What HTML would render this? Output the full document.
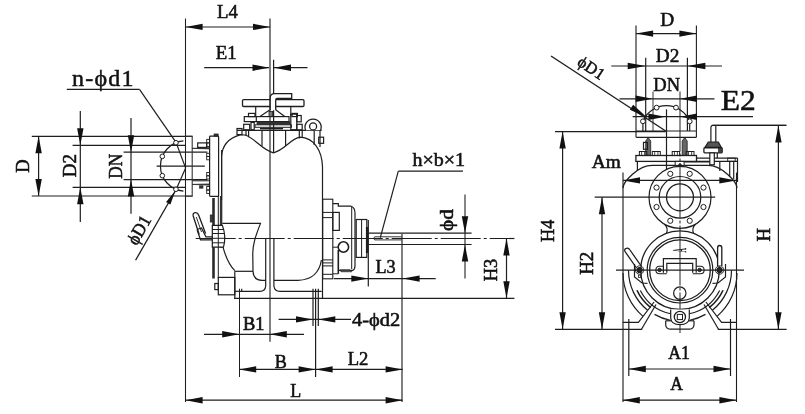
<!DOCTYPE html>
<html><head><meta charset="utf-8"><title>Pump dimensions</title>
<style>
html,body{margin:0;padding:0;background:#fff;}
body{width:805px;height:414px;overflow:hidden;}
svg{display:block;font-family:"Liberation Serif",serif;opacity:0.999;will-change:transform;}
</style></head><body>
<svg width="805" height="414" viewBox="0 0 805 414">
<rect x="0" y="0" width="805" height="414" fill="#ffffff"/>
<line x1="185.50" y1="18.60" x2="185.50" y2="402.00" stroke="#1e1e1e" stroke-width="1.05"/>
<line x1="270.00" y1="18.60" x2="270.00" y2="341.80" stroke="#222" stroke-width="1.15"/>
<line x1="273.60" y1="59.70" x2="273.60" y2="152.80" stroke="#1e1e1e" stroke-width="1.2"/>
<line x1="185.60" y1="27.00" x2="270.00" y2="27.00" stroke="#1e1e1e" stroke-width="1.1"/>
<polygon points="185.60,26.90 202.60,23.70 202.60,30.10" fill="#111"/>
<polygon points="270.00,26.90 253.00,30.10 253.00,23.70" fill="#111"/>
<text transform="translate(217.06 17.90) rotate(0) scale(1.019 1)" font-size="18.40" fill="#111" stroke="#111" stroke-width="0.55">L4</text>
<line x1="204.20" y1="67.70" x2="269.00" y2="67.70" stroke="#1e1e1e" stroke-width="1.2"/>
<polygon points="269.50,67.70 252.50,70.90 252.50,64.50" fill="#111"/>
<line x1="274.00" y1="67.70" x2="307.50" y2="67.70" stroke="#1e1e1e" stroke-width="1.2"/>
<polygon points="274.00,67.70 291.00,64.50 291.00,70.90" fill="#111"/>
<text transform="translate(215.76 58.90) rotate(0) scale(1.021 1)" font-size="18.40" fill="#111" stroke="#111" stroke-width="0.55">E1</text>
<text x="72.00" y="85.60" font-size="24" text-anchor="start" letter-spacing="1.2" fill="#111" stroke="#111" stroke-width="0.5" font-weight="normal">n-ϕd1</text>
<line x1="66.80" y1="89.30" x2="139.50" y2="89.30" stroke="#1e1e1e" stroke-width="1.2"/>
<line x1="139.50" y1="89.30" x2="176.00" y2="142.40" stroke="#1e1e1e" stroke-width="1.2"/>
<line x1="176.00" y1="142.40" x2="185.65" y2="168.00" stroke="#1e1e1e" stroke-width="1.2"/>
<line x1="176.00" y1="189.70" x2="185.65" y2="168.00" stroke="#1e1e1e" stroke-width="1.2"/>
<line x1="31.80" y1="136.30" x2="192.30" y2="136.30" stroke="#1e1e1e" stroke-width="1.2"/>
<line x1="31.80" y1="196.00" x2="192.30" y2="196.00" stroke="#1e1e1e" stroke-width="1.2"/>
<line x1="38.60" y1="136.30" x2="38.60" y2="196.00" stroke="#1e1e1e" stroke-width="1.2"/>
<polygon points="38.60,136.30 41.80,153.30 35.40,153.30" fill="#111"/>
<polygon points="38.60,196.00 35.40,179.00 41.80,179.00" fill="#111"/>
<text transform="translate(29.10 172.63) rotate(-90) scale(0.975 1)" font-size="19.00" fill="#111" stroke="#111" stroke-width="0.55">D</text>
<line x1="72.60" y1="145.30" x2="185.00" y2="145.30" stroke="#1e1e1e" stroke-width="1.2"/>
<line x1="72.60" y1="187.30" x2="185.00" y2="187.30" stroke="#1e1e1e" stroke-width="1.2"/>
<line x1="80.30" y1="111.00" x2="80.30" y2="222.00" stroke="#1e1e1e" stroke-width="1.2"/>
<polygon points="80.30,145.30 77.10,128.30 83.50,128.30" fill="#111"/>
<polygon points="80.30,187.30 83.50,204.30 77.10,204.30" fill="#111"/>
<text transform="translate(76.00 177.15) rotate(-90) scale(1.003 1)" font-size="19.00" fill="#111" stroke="#111" stroke-width="0.55">D2</text>
<line x1="123.60" y1="152.20" x2="207.40" y2="152.20" stroke="#1e1e1e" stroke-width="1.2"/>
<line x1="123.60" y1="179.60" x2="207.40" y2="179.60" stroke="#1e1e1e" stroke-width="1.2"/>
<line x1="131.00" y1="118.00" x2="131.00" y2="213.70" stroke="#1e1e1e" stroke-width="1.2"/>
<polygon points="131.00,152.20 127.80,135.20 134.20,135.20" fill="#111"/>
<polygon points="131.00,179.60 134.20,196.60 127.80,196.60" fill="#111"/>
<text transform="translate(122.00 178.70) rotate(-90) scale(0.911 1)" font-size="19.00" fill="#111" stroke="#111" stroke-width="0.55">DN</text>
<line x1="135.60" y1="260.20" x2="176.00" y2="189.70" stroke="#1e1e1e" stroke-width="1.3"/>
<polygon points="175.20,191.00 170.41,204.39 166.07,201.90" fill="#111"/>
<text transform="translate(136.67 246.15) rotate(-60.2) scale(0.950 1)" font-size="18.30" fill="#111" stroke="#111" stroke-width="0.5">ϕD1</text>
<line x1="156.60" y1="166.20" x2="204.80" y2="166.20" stroke="#1e1e1e" stroke-width="1.2"/>
<path d="M185.5,136.3 L192.2,136.3 L192.2,196.3 L185.5,196.3" stroke="#333" stroke-width="1.1" fill="none" />
<path d="M183.40,140.90 A25.20,25.20 0 0 0 183.40,191.10" stroke="#1e1e1e" stroke-width="1.2" fill="none" />
<circle cx="175.96" cy="142.72" r="2.30" stroke="#1e1e1e" stroke-width="1" fill="#fff"/>
<circle cx="162.32" cy="156.36" r="2.30" stroke="#1e1e1e" stroke-width="1" fill="#fff"/>
<circle cx="162.32" cy="175.64" r="2.30" stroke="#1e1e1e" stroke-width="1" fill="#fff"/>
<circle cx="175.96" cy="189.28" r="2.30" stroke="#1e1e1e" stroke-width="1" fill="#fff"/>
<line x1="239.50" y1="288.70" x2="239.50" y2="377.00" stroke="#1e1e1e" stroke-width="1.05"/>
<line x1="204.00" y1="334.30" x2="304.00" y2="334.30" stroke="#1e1e1e" stroke-width="1.2"/>
<polygon points="239.20,334.30 222.20,337.50 222.20,331.10" fill="#111"/>
<polygon points="269.80,334.30 286.80,331.10 286.80,337.50" fill="#111"/>
<text transform="translate(242.97 330.30) rotate(0) scale(0.998 1)" font-size="18.40" fill="#111" stroke="#111" stroke-width="0.7">B1</text>
<line x1="313.00" y1="288.70" x2="313.00" y2="326.00" stroke="#1e1e1e" stroke-width="1.2"/>
<line x1="318.30" y1="288.70" x2="318.30" y2="326.00" stroke="#1e1e1e" stroke-width="1.2"/>
<line x1="315.60" y1="288.70" x2="315.60" y2="377.00" stroke="#1e1e1e" stroke-width="1.2"/>
<line x1="278.60" y1="319.40" x2="351.00" y2="319.40" stroke="#1e1e1e" stroke-width="1.2"/>
<polygon points="313.00,319.40 296.00,322.60 296.00,316.20" fill="#111"/>
<polygon points="318.30,319.40 335.30,316.20 335.30,322.60" fill="#111"/>
<text transform="translate(352.10 325.60) rotate(0) scale(1.111 1)" font-size="18.40" fill="#111" stroke="#111" stroke-width="0.55">4-ϕd2</text>
<line x1="239.20" y1="369.40" x2="402.60" y2="369.40" stroke="#1e1e1e" stroke-width="1.2"/>
<polygon points="239.20,369.40 256.20,366.20 256.20,372.60" fill="#111"/>
<polygon points="315.60,369.40 298.60,372.60 298.60,366.20" fill="#111"/>
<text transform="translate(274.78 367.70) rotate(0) scale(0.987 1)" font-size="18.40" fill="#111" stroke="#111" stroke-width="0.55">B</text>
<polygon points="315.60,369.40 332.60,366.20 332.60,372.60" fill="#111"/>
<polygon points="402.60,369.40 385.60,372.60 385.60,366.20" fill="#111"/>
<text transform="translate(347.76 365.20) rotate(0) scale(1.011 1)" font-size="18.40" fill="#111" stroke="#111" stroke-width="0.55">L2</text>
<line x1="185.60" y1="400.20" x2="402.60" y2="400.20" stroke="#1e1e1e" stroke-width="1.3"/>
<polygon points="185.60,400.20 202.60,397.00 202.60,403.40" fill="#111"/>
<polygon points="402.60,400.20 385.60,403.40 385.60,397.00" fill="#111"/>
<text transform="translate(290.28 397.00) rotate(0) scale(0.979 1)" font-size="18.40" fill="#111" stroke="#111" stroke-width="0.55">L</text>
<line x1="402.00" y1="234.00" x2="402.00" y2="402.00" stroke="#222" stroke-width="1.15"/>
<line x1="368.30" y1="220.00" x2="368.30" y2="286.60" stroke="#1e1e1e" stroke-width="1.2"/>
<line x1="333.90" y1="278.60" x2="435.70" y2="278.60" stroke="#1e1e1e" stroke-width="1.2"/>
<polygon points="368.30,278.60 351.30,281.80 351.30,275.40" fill="#111"/>
<polygon points="402.60,278.60 419.60,275.40 419.60,281.80" fill="#111"/>
<text transform="translate(375.48 272.70) rotate(0) scale(0.990 1)" font-size="18.40" fill="#111" stroke="#111" stroke-width="0.55">L3</text>
<text transform="translate(412.50 166.00) rotate(0) scale(1.088 1)" font-size="18.40" fill="#111" stroke="#111" stroke-width="0.55">h×b×1</text>
<line x1="398.30" y1="171.20" x2="463.00" y2="171.20" stroke="#1e1e1e" stroke-width="1.2"/>
<line x1="398.30" y1="171.20" x2="380.30" y2="237.60" stroke="#1e1e1e" stroke-width="1.2"/>
<line x1="368.40" y1="233.20" x2="471.60" y2="233.20" stroke="#1e1e1e" stroke-width="1.2"/>
<line x1="368.40" y1="244.50" x2="471.60" y2="244.50" stroke="#1e1e1e" stroke-width="1.2"/>
<line x1="465.00" y1="194.50" x2="465.00" y2="278.40" stroke="#222" stroke-width="1.1"/>
<polygon points="465.00,233.20 461.80,216.20 468.20,216.20" fill="#111"/>
<polygon points="465.00,244.50 468.20,261.50 461.80,261.50" fill="#111"/>
<text transform="translate(453.30 230.91) rotate(-90) scale(1.117 1)" font-size="19.00" fill="#111" stroke="#111" stroke-width="0.55">ϕd</text>
<line x1="195.70" y1="238.50" x2="514.40" y2="238.50" stroke="#1e1e1e" stroke-width="1.2" stroke-dasharray="40 3 3 3"/>
<line x1="234.00" y1="298.30" x2="514.40" y2="298.30" stroke="#1e1e1e" stroke-width="1.2"/>
<line x1="506.50" y1="238.50" x2="506.50" y2="298.30" stroke="#1e1e1e" stroke-width="1.2"/>
<polygon points="506.50,238.50 509.70,255.50 503.30,255.50" fill="#111"/>
<polygon points="506.50,298.30 503.30,281.30 509.70,281.30" fill="#111"/>
<text transform="translate(497.30 281.33) rotate(-90) scale(0.967 1)" font-size="19.00" fill="#111" stroke="#111" stroke-width="0.55">H3</text>
<rect x="242.50" y="99.70" width="61.50" height="6.80" rx="1.2" stroke="#1e1e1e" stroke-width="1.3" fill="none"/>
<path d="M270.2,110.3 L270.2,98 Q270.2,93.7 274.5,93.7 L291.7,93.7 L291.7,98.5 L277.2,98.5 Q275.7,98.5 275.7,100.2 L275.7,110.3" stroke="#1e1e1e" stroke-width="1.3" fill="#fff" />
<line x1="255.70" y1="106.50" x2="255.70" y2="116.40" stroke="#1e1e1e" stroke-width="1.2"/>
<line x1="290.80" y1="106.50" x2="290.80" y2="116.40" stroke="#1e1e1e" stroke-width="1.2"/>
<path d="M260.00,116.40 L269.60,109.90" stroke="#1e1e1e" stroke-width="1.2" fill="none" />
<path d="M276.00,109.90 L284.70,116.40" stroke="#1e1e1e" stroke-width="1.2" fill="none" />
<rect x="269.00" y="111.50" width="3.60" height="4.90" rx="0" stroke="#1e1e1e" stroke-width="0.8" fill="#777"/>
<rect x="244.30" y="116.60" width="44.70" height="5.00" rx="0" stroke="#1e1e1e" stroke-width="1.2" fill="none"/>
<line x1="256.30" y1="116.60" x2="256.30" y2="121.60" stroke="#1e1e1e" stroke-width="1.2"/>
<rect x="248.50" y="113.40" width="6.50" height="3.20" rx="0" stroke="#1e1e1e" stroke-width="1.2" fill="none"/>
<rect x="292.00" y="113.40" width="5.40" height="3.20" rx="0" stroke="#1e1e1e" stroke-width="1.2" fill="none"/>
<rect x="290.80" y="114.20" width="6.00" height="15.50" rx="0" stroke="#1e1e1e" stroke-width="1.2" fill="none"/>
<rect x="296.80" y="115.50" width="4.40" height="6.30" rx="0" stroke="#1e1e1e" stroke-width="1.2" fill="none"/>
<rect x="257.00" y="121.80" width="33.00" height="2.50" rx="0" stroke="#1e1e1e" stroke-width="0.6" fill="#333"/>
<rect x="243.70" y="124.30" width="6.00" height="5.50" rx="0" stroke="#1e1e1e" stroke-width="1.2" fill="none"/>
<rect x="251.00" y="122.40" width="3.20" height="7.40" rx="0" stroke="#1e1e1e" stroke-width="1.2" fill="none"/>
<rect x="255.00" y="124.80" width="36.40" height="2.50" rx="0" stroke="#1e1e1e" stroke-width="1" fill="none"/>
<line x1="260.00" y1="128.60" x2="283.00" y2="128.60" stroke="#1e1e1e" stroke-width="1.6"/>
<rect x="296.80" y="124.30" width="5.40" height="5.50" rx="0" stroke="#1e1e1e" stroke-width="1.2" fill="none"/>
<line x1="237.00" y1="130.30" x2="321.60" y2="130.30" stroke="#1e1e1e" stroke-width="1.3"/>
<rect x="237.00" y="128.50" width="5.00" height="6.10" rx="0" stroke="#1e1e1e" stroke-width="1.2" fill="none"/>
<line x1="246.00" y1="130.30" x2="246.00" y2="136.00" stroke="#1e1e1e" stroke-width="1.2"/>
<line x1="248.60" y1="130.30" x2="248.60" y2="137.30" stroke="#1e1e1e" stroke-width="1.2"/>
<line x1="262.00" y1="130.30" x2="262.00" y2="146.00" stroke="#1e1e1e" stroke-width="1.2"/>
<line x1="285.60" y1="130.30" x2="285.60" y2="146.00" stroke="#1e1e1e" stroke-width="1.2"/>
<line x1="299.30" y1="130.30" x2="299.30" y2="138.60" stroke="#1e1e1e" stroke-width="1.2"/>
<line x1="302.20" y1="130.30" x2="302.20" y2="138.00" stroke="#1e1e1e" stroke-width="1.2"/>
<line x1="314.20" y1="130.30" x2="314.20" y2="145.00" stroke="#1e1e1e" stroke-width="1.2"/>
<path d="M305.6,130.3 A8.1,8.1 0 1 1 320.6,130.3" stroke="#1e1e1e" stroke-width="1.3" fill="#fff" />
<circle cx="313.10" cy="126.40" r="3.50" stroke="#1e1e1e" stroke-width="1.3" fill="none"/>
<rect x="318.70" y="137.20" width="4.90" height="6.10" rx="0" stroke="#1e1e1e" stroke-width="1.2" fill="none"/>
<line x1="320.00" y1="130.30" x2="320.00" y2="147.00" stroke="#1e1e1e" stroke-width="1.2"/>
<path d="M221.7,248 L221.7,157 Q222,140 240,134.8 L245.3,135 C256,139 262,150 273.5,152.8 C285,150 290,139 300,137.2 C314,138 322,150 322.5,167 L322.5,298.3" stroke="#1e1e1e" stroke-width="1.2" fill="none" />
<rect x="209.60" y="136.10" width="9.00" height="60.20" rx="0.8" stroke="#1e1e1e" stroke-width="1.2" fill="none"/>
<line x1="221.60" y1="150.00" x2="221.60" y2="200.00" stroke="#1e1e1e" stroke-width="1"/>
<rect x="214.10" y="134.00" width="4.00" height="2.10" rx="0" stroke="#1e1e1e" stroke-width="0.8" fill="#333"/>
<rect x="206.70" y="139.40" width="2.90" height="3.50" rx="0" stroke="#1e1e1e" stroke-width="0.9" fill="none"/>
<rect x="206.70" y="142.90" width="2.90" height="3.50" rx="0" stroke="#1e1e1e" stroke-width="0.9" fill="none"/>
<rect x="206.70" y="153.30" width="2.90" height="3.20" rx="0" stroke="#1e1e1e" stroke-width="0.9" fill="none"/>
<rect x="206.70" y="156.50" width="2.90" height="3.30" rx="0" stroke="#1e1e1e" stroke-width="0.9" fill="none"/>
<rect x="206.70" y="172.50" width="2.90" height="3.30" rx="0" stroke="#1e1e1e" stroke-width="0.9" fill="none"/>
<rect x="206.70" y="175.80" width="2.90" height="3.20" rx="0" stroke="#1e1e1e" stroke-width="0.9" fill="none"/>
<rect x="206.70" y="186.50" width="2.90" height="3.50" rx="0" stroke="#1e1e1e" stroke-width="0.9" fill="none"/>
<rect x="206.70" y="190.00" width="2.90" height="3.50" rx="0" stroke="#1e1e1e" stroke-width="0.9" fill="none"/>
<rect x="197.70" y="142.90" width="9.00" height="4.50" rx="0" stroke="#1e1e1e" stroke-width="1.2" fill="none"/>
<path d="M192.20,148.40 L209.60,148.90 L209.60,147.60 Z" stroke="#1e1e1e" stroke-width="0.7" fill="#444" />
<path d="M192.20,184.40 L209.60,183.90 L209.60,185.20 Z" stroke="#1e1e1e" stroke-width="0.7" fill="#444" />
<rect x="199.50" y="185.80" width="3.50" height="2.40" rx="0" stroke="#1e1e1e" stroke-width="0.6" fill="#333"/>
<line x1="192.30" y1="180.80" x2="209.60" y2="180.80" stroke="#1e1e1e" stroke-width="1"/>
<line x1="213.50" y1="198.00" x2="213.50" y2="278.50" stroke="#2a2a2a" stroke-width="2.6"/>
<line x1="218.30" y1="196.00" x2="218.30" y2="278.50" stroke="#1e1e1e" stroke-width="1"/>
<line x1="220.40" y1="196.00" x2="220.40" y2="248.00" stroke="#1e1e1e" stroke-width="1"/>
<rect x="210.30" y="215.00" width="2.00" height="7.00" rx="0" stroke="#1e1e1e" stroke-width="0.8" fill="#444"/>
<path d="M212.3,225.3 L222.3,225.3 Q226.5,236 223.5,247.2 L212.3,247.2 Z" stroke="#1e1e1e" stroke-width="1.2" fill="#fff" />
<line x1="212.30" y1="229.50" x2="223.50" y2="229.50" stroke="#1e1e1e" stroke-width="1"/>
<line x1="212.30" y1="233.50" x2="224.60" y2="233.50" stroke="#1e1e1e" stroke-width="1"/>
<line x1="212.30" y1="238.30" x2="225.40" y2="238.30" stroke="#1e1e1e" stroke-width="1"/>
<line x1="212.30" y1="242.80" x2="224.60" y2="242.80" stroke="#1e1e1e" stroke-width="1"/>
<line x1="218.30" y1="225.30" x2="218.30" y2="247.20" stroke="#1e1e1e" stroke-width="1"/>
<path d="M199.2,234.5 L193.2,216 Q192.6,213 195.2,212.6 Q197.6,212.3 198.6,215 L205.6,233.5" stroke="#1e1e1e" stroke-width="1.3" fill="#fff" />
<line x1="196.30" y1="217.00" x2="201.50" y2="232.00" stroke="#1e1e1e" stroke-width="0.9"/>
<path d="M197,229.5 L201.5,228 L205.9,236.8 L212.3,236.8 M197,229.5 L200.5,239.8 L212.3,239.8" stroke="#1e1e1e" stroke-width="1.2" fill="none" />
<path d="M222.3,223.4 L260.5,223.4 C256,235 252.2,245 252.8,256 L253,271.3 Q253.5,280.3 262,280.3 L265.7,280.3" stroke="#1e1e1e" stroke-width="1.2" fill="none" />
<path d="M223,247.2 C226,258 229,265 234.8,270.6" stroke="#1e1e1e" stroke-width="1.2" fill="none" />
<line x1="234.80" y1="271.30" x2="253.00" y2="271.30" stroke="#1e1e1e" stroke-width="1.2"/>
<line x1="234.80" y1="271.30" x2="234.80" y2="298.30" stroke="#1e1e1e" stroke-width="1.2"/>
<path d="M265.7,238.5 L265.7,286 Q265.2,291.3 260,291.3 L239,291.3" stroke="#1e1e1e" stroke-width="1.2" fill="none" />
<path d="M273.9,238.5 L273.9,286 Q274.4,291.3 280,291.3 L321.7,291.3" stroke="#1e1e1e" stroke-width="1.2" fill="none" />
<path d="M273.9,280.3 L298,280.3 C310,280 319,275 321.4,260" stroke="#1e1e1e" stroke-width="1.2" fill="none" />
<line x1="234.00" y1="291.30" x2="239.00" y2="291.30" stroke="#1e1e1e" stroke-width="1.2"/>
<line x1="241.70" y1="288.70" x2="241.70" y2="291.30" stroke="#1e1e1e" stroke-width="1.2"/>
<rect x="218.30" y="277.40" width="16.50" height="17.40" rx="0" stroke="#1e1e1e" stroke-width="1.2" fill="none"/>
<rect x="214.80" y="283.50" width="3.50" height="6.10" rx="0" stroke="#1e1e1e" stroke-width="1.2" fill="none"/>
<rect x="322.70" y="199.20" width="10.10" height="79.60" rx="0" stroke="#1e1e1e" stroke-width="1.1" fill="none"/>
<line x1="322.70" y1="212.40" x2="332.80" y2="212.40" stroke="#1e1e1e" stroke-width="1"/>
<line x1="322.70" y1="217.60" x2="332.80" y2="217.60" stroke="#1e1e1e" stroke-width="1"/>
<line x1="322.70" y1="259.90" x2="332.80" y2="259.90" stroke="#1e1e1e" stroke-width="1"/>
<line x1="322.70" y1="262.90" x2="332.80" y2="262.90" stroke="#1e1e1e" stroke-width="1"/>
<line x1="322.70" y1="265.90" x2="332.80" y2="265.90" stroke="#1e1e1e" stroke-width="1"/>
<line x1="322.70" y1="274.30" x2="332.80" y2="274.30" stroke="#1e1e1e" stroke-width="1"/>
<path d="M332.8,203.6 L338.3,203.6 L338.3,206.2 L351,206.2 Q355,207.5 355,213 L355,266 Q354.8,269.5 352.7,270.4 L338.3,270.4" stroke="#1e1e1e" stroke-width="1.2" fill="none" />
<rect x="332.80" y="212.40" width="6.50" height="18.00" rx="0" stroke="#1e1e1e" stroke-width="1.2" fill="none"/>
<line x1="338.30" y1="250.00" x2="338.30" y2="273.80" stroke="#1e1e1e" stroke-width="1.6"/>
<line x1="332.80" y1="247.20" x2="338.30" y2="247.20" stroke="#1e1e1e" stroke-width="1"/>
<line x1="332.80" y1="273.80" x2="338.30" y2="273.80" stroke="#1e1e1e" stroke-width="1"/>
<line x1="351.70" y1="206.80" x2="351.70" y2="269.00" stroke="#1e1e1e" stroke-width="1"/>
<rect x="356.20" y="219.50" width="10.60" height="37.90" rx="0" stroke="#1e1e1e" stroke-width="1.2" fill="none"/>
<line x1="361.60" y1="219.50" x2="361.60" y2="257.40" stroke="#1e1e1e" stroke-width="1"/>
<line x1="367.10" y1="227.00" x2="367.10" y2="253.00" stroke="#1e1e1e" stroke-width="2.4"/>
<circle cx="343.40" cy="247.00" r="5.20" stroke="#1e1e1e" stroke-width="1.6" fill="#fff"/>
<path d="M340,269.8 L350,269.8 L352,271.8 L341,271.8 Z" stroke="#1e1e1e" stroke-width="0.6" fill="#444" />
<path d="M401.7,236.8 L374.6,236.8 Q373,238.3 374.6,239.9 L401.7,239.9" stroke="#1e1e1e" stroke-width="0.9" fill="none" />
<line x1="636.00" y1="25.60" x2="636.00" y2="137.30" stroke="#222" stroke-width="1.15"/>
<line x1="696.40" y1="25.60" x2="696.40" y2="137.30" stroke="#1e1e1e" stroke-width="1.1"/>
<line x1="636.10" y1="33.60" x2="696.40" y2="33.60" stroke="#1e1e1e" stroke-width="1.2"/>
<polygon points="636.10,33.60 653.10,30.40 653.10,36.80" fill="#111"/>
<polygon points="696.40,33.60 679.40,36.80 679.40,30.40" fill="#111"/>
<text transform="translate(660.34 26.10) rotate(0) scale(1.048 1)" font-size="18.40" fill="#111" stroke="#111" stroke-width="0.55">D</text>
<line x1="645.70" y1="57.70" x2="645.70" y2="131.00" stroke="#1e1e1e" stroke-width="1.2"/>
<line x1="687.40" y1="57.70" x2="687.40" y2="131.00" stroke="#1e1e1e" stroke-width="1.2"/>
<line x1="611.30" y1="66.00" x2="722.00" y2="66.00" stroke="#1e1e1e" stroke-width="1.2"/>
<polygon points="645.70,66.00 627.70,69.20 627.70,62.80" fill="#111"/>
<polygon points="687.40,66.00 705.40,62.80 705.40,69.20" fill="#111"/>
<text transform="translate(655.75 62.20) rotate(0) scale(1.046 1)" font-size="18.40" fill="#111" stroke="#111" stroke-width="0.55">D2</text>
<line x1="653.00" y1="91.50" x2="653.00" y2="131.00" stroke="#222" stroke-width="0.9"/>
<line x1="680.00" y1="91.50" x2="680.00" y2="333.00" stroke="#222" stroke-width="1" stroke-dasharray="60 2 3 2"/>
<line x1="619.50" y1="98.80" x2="714.50" y2="98.80" stroke="#1e1e1e" stroke-width="1.2"/>
<polygon points="652.60,98.80 635.60,102.00 635.60,95.60" fill="#111"/>
<polygon points="680.00,98.80 697.00,95.60 697.00,102.00" fill="#111"/>
<text transform="translate(653.37 90.80) rotate(0) scale(1.007 1)" font-size="18.40" fill="#111" stroke="#111" stroke-width="0.55">DN</text>
<text transform="translate(720.79 110.10) rotate(0) scale(1.049 1)" font-size="30.00" fill="#111" stroke="#111" stroke-width="0.55">E2</text>
<line x1="632.60" y1="116.70" x2="753.00" y2="116.70" stroke="#1e1e1e" stroke-width="1.2"/>
<polygon points="665.40,116.70 648.40,119.90 648.40,113.50" fill="#111"/>
<polygon points="680.00,116.70 697.00,113.50 697.00,119.90" fill="#111"/>
<line x1="666.50" y1="109.30" x2="666.50" y2="170.00" stroke="#1e1e1e" stroke-width="1.2"/>
<line x1="551.00" y1="56.00" x2="665.70" y2="131.00" stroke="#1e1e1e" stroke-width="1.4"/>
<polygon points="647.40,117.70 629.86,109.81 633.14,104.79" fill="#111"/>
<text transform="translate(576.19 64.56) rotate(33.4) scale(1.000 1)" font-size="16.50" fill="#111" stroke="#111" stroke-width="0.5">ϕD1</text>
<line x1="555.00" y1="131.60" x2="665.70" y2="131.60" stroke="#1e1e1e" stroke-width="1.2"/>
<line x1="562.60" y1="131.60" x2="562.60" y2="329.30" stroke="#1e1e1e" stroke-width="1.2"/>
<polygon points="562.60,131.60 565.80,148.60 559.40,148.60" fill="#111"/>
<polygon points="562.60,329.30 559.40,312.30 565.80,312.30" fill="#111"/>
<text transform="translate(553.60 241.93) rotate(-90) scale(0.961 1)" font-size="19.00" fill="#111" stroke="#111" stroke-width="0.55">H4</text>
<line x1="594.70" y1="197.20" x2="715.20" y2="197.20" stroke="#1e1e1e" stroke-width="1.2"/>
<line x1="602.00" y1="197.20" x2="602.00" y2="329.30" stroke="#1e1e1e" stroke-width="1.2"/>
<polygon points="602.00,197.20 605.20,214.20 598.80,214.20" fill="#111"/>
<polygon points="602.00,329.30 598.80,312.30 605.20,312.30" fill="#111"/>
<text transform="translate(592.70 274.84) rotate(-90) scale(0.994 1)" font-size="19.00" fill="#111" stroke="#111" stroke-width="0.55">H2</text>
<text transform="translate(591.81 167.50) rotate(0) scale(1.050 1)" font-size="18.40" fill="#111" stroke="#111" stroke-width="0.55">Am</text>
<line x1="623.00" y1="180.40" x2="736.30" y2="180.40" stroke="#1e1e1e" stroke-width="1.2"/>
<polygon points="623.00,180.40 640.00,177.20 640.00,183.60" fill="#111"/>
<polygon points="736.30,180.40 719.30,183.60 719.30,177.20" fill="#111"/>
<line x1="712.60" y1="125.40" x2="786.60" y2="125.40" stroke="#1e1e1e" stroke-width="1.2"/>
<line x1="778.40" y1="125.40" x2="778.40" y2="329.30" stroke="#1e1e1e" stroke-width="1.2"/>
<polygon points="778.40,125.40 781.60,142.40 775.20,142.40" fill="#111"/>
<polygon points="778.40,329.30 775.20,312.30 781.60,312.30" fill="#111"/>
<text transform="translate(769.90 241.54) rotate(-90) scale(0.983 1)" font-size="19.00" fill="#111" stroke="#111" stroke-width="0.55">H</text>
<line x1="555.00" y1="329.30" x2="642.20" y2="329.30" stroke="#1e1e1e" stroke-width="1.2"/>
<line x1="717.80" y1="329.30" x2="786.60" y2="329.30" stroke="#1e1e1e" stroke-width="1.2"/>
<line x1="623.00" y1="172.60" x2="623.00" y2="402.00" stroke="#222" stroke-width="1.15"/>
<line x1="736.50" y1="172.60" x2="736.50" y2="402.00" stroke="#1e1e1e" stroke-width="1.1"/>
<line x1="628.80" y1="319.00" x2="628.80" y2="376.00" stroke="#1e1e1e" stroke-width="1.2"/>
<line x1="730.50" y1="319.00" x2="730.50" y2="376.00" stroke="#1e1e1e" stroke-width="1.2"/>
<line x1="628.80" y1="369.00" x2="730.50" y2="369.00" stroke="#1e1e1e" stroke-width="1.2"/>
<polygon points="628.80,369.00 645.80,365.80 645.80,372.20" fill="#111"/>
<polygon points="730.50,369.00 713.50,372.20 713.50,365.80" fill="#111"/>
<text transform="translate(668.13 359.20) rotate(0) scale(0.962 1)" font-size="18.40" fill="#111" stroke="#111" stroke-width="0.55">A1</text>
<line x1="622.80" y1="400.20" x2="736.40" y2="400.20" stroke="#1e1e1e" stroke-width="1.3"/>
<polygon points="622.80,400.20 639.80,397.00 639.80,403.40" fill="#111"/>
<polygon points="736.40,400.20 719.40,403.40 719.40,397.00" fill="#111"/>
<text transform="translate(670.13 390.30) rotate(0) scale(0.956 1)" font-size="18.40" fill="#111" stroke="#111" stroke-width="0.55">A</text>
<line x1="636.10" y1="131.00" x2="696.40" y2="131.00" stroke="#1e1e1e" stroke-width="1.2"/>
<line x1="636.10" y1="137.30" x2="696.40" y2="137.30" stroke="#1e1e1e" stroke-width="1.2"/>
<path d="M642.93,121.32 A25.30,25.30 0 0 1 689.67,121.32" stroke="#1e1e1e" stroke-width="1.2" fill="none" />
<circle cx="689.67" cy="121.32" r="2.40" stroke="#1e1e1e" stroke-width="1" fill="#fff"/>
<circle cx="675.98" cy="107.63" r="2.40" stroke="#1e1e1e" stroke-width="1" fill="#fff"/>
<circle cx="656.62" cy="107.63" r="2.40" stroke="#1e1e1e" stroke-width="1" fill="#fff"/>
<circle cx="642.93" cy="121.32" r="2.40" stroke="#1e1e1e" stroke-width="1" fill="#fff"/>
<line x1="642.90" y1="124.00" x2="642.90" y2="131.00" stroke="#1e1e1e" stroke-width="1.2"/>
<line x1="689.70" y1="124.00" x2="689.70" y2="131.00" stroke="#1e1e1e" stroke-width="1.2"/>
<path d="M645.7,155 L645.7,141 L648.2,137.5 L650.7,141 L650.7,155" stroke="#1e1e1e" stroke-width="0.8" fill="#666" />
<path d="M682.2,155 L682.2,141 L684.7,137.5 L687.2,141 L687.2,155" stroke="#1e1e1e" stroke-width="0.8" fill="#666" />
<rect x="643.50" y="142.40" width="3.90" height="6.90" rx="0" stroke="#1e1e1e" stroke-width="1.2" fill="none"/>
<rect x="639.40" y="151.50" width="7.40" height="4.00" rx="0" stroke="#1e1e1e" stroke-width="1" fill="none"/>
<line x1="641.62" y1="151.50" x2="641.62" y2="155.50" stroke="#1e1e1e" stroke-width="0.8"/>
<line x1="644.58" y1="151.50" x2="644.58" y2="155.50" stroke="#1e1e1e" stroke-width="0.8"/>
<rect x="652.30" y="151.50" width="8.00" height="4.00" rx="0" stroke="#1e1e1e" stroke-width="1" fill="none"/>
<line x1="654.70" y1="151.50" x2="654.70" y2="155.50" stroke="#1e1e1e" stroke-width="0.8"/>
<line x1="657.90" y1="151.50" x2="657.90" y2="155.50" stroke="#1e1e1e" stroke-width="0.8"/>
<rect x="672.20" y="151.50" width="7.40" height="4.00" rx="0" stroke="#1e1e1e" stroke-width="1" fill="none"/>
<line x1="674.42" y1="151.50" x2="674.42" y2="155.50" stroke="#1e1e1e" stroke-width="0.8"/>
<line x1="677.38" y1="151.50" x2="677.38" y2="155.50" stroke="#1e1e1e" stroke-width="0.8"/>
<rect x="686.10" y="151.50" width="7.90" height="4.00" rx="0" stroke="#1e1e1e" stroke-width="1" fill="none"/>
<line x1="688.47" y1="151.50" x2="688.47" y2="155.50" stroke="#1e1e1e" stroke-width="0.8"/>
<line x1="691.63" y1="151.50" x2="691.63" y2="155.50" stroke="#1e1e1e" stroke-width="0.8"/>
<rect x="635.90" y="155.50" width="60.60" height="5.90" rx="0" stroke="#1e1e1e" stroke-width="1.3" fill="none"/>
<line x1="637.40" y1="161.40" x2="637.40" y2="170.40" stroke="#1e1e1e" stroke-width="1.2"/>
<line x1="652.00" y1="165.40" x2="708.00" y2="165.40" stroke="#1e1e1e" stroke-width="1.2"/>
<line x1="684.00" y1="161.90" x2="709.80" y2="161.90" stroke="#1e1e1e" stroke-width="1.2"/>
<rect x="675.20" y="161.40" width="8.90" height="4.00" rx="0" stroke="#1e1e1e" stroke-width="1" fill="#fff"/>
<path d="M677.00,166.60 L680.00,163.20 L683.00,166.60 Z" stroke="#1e1e1e" stroke-width="0.8" fill="#222" />
<path d="M623,188 C623,182 638,165.4 652,165.4" stroke="#1e1e1e" stroke-width="1.3" fill="none" />
<path d="M737,188 C737,182 722,165.4 708,165.4" stroke="#1e1e1e" stroke-width="1.3" fill="none" />
<line x1="696.90" y1="158.10" x2="737.70" y2="158.10" stroke="#1e1e1e" stroke-width="1.2"/>
<line x1="696.90" y1="161.30" x2="737.70" y2="161.30" stroke="#1e1e1e" stroke-width="1.2"/>
<line x1="737.50" y1="158.10" x2="737.50" y2="182.00" stroke="#1e1e1e" stroke-width="1.2"/>
<rect x="727.70" y="158.10" width="7.50" height="3.20" rx="0" stroke="#1e1e1e" stroke-width="0.9" fill="none"/>
<line x1="719.80" y1="161.30" x2="719.80" y2="171.00" stroke="#1e1e1e" stroke-width="1.2"/>
<line x1="729.70" y1="161.30" x2="729.70" y2="176.50" stroke="#1e1e1e" stroke-width="1.2"/>
<line x1="733.70" y1="161.30" x2="733.70" y2="179.00" stroke="#1e1e1e" stroke-width="1.2"/>
<path d="M786,125.4 L712.6,125.4 Q710.9,125.6 710.9,127.5 L710.9,142 M715.8,125.4 L715.8,142" stroke="#1e1e1e" stroke-width="1.2" fill="none" />
<path d="M708.30,142.00 L718.30,142.00 L721.30,147.40 L704.90,147.40 Z" stroke="#1e1e1e" stroke-width="1.2" fill="#555" />
<rect x="703.90" y="147.90" width="18.30" height="5.00" rx="0.8" stroke="#1e1e1e" stroke-width="1.3" fill="#fff"/>
<rect x="718.30" y="148.30" width="3.50" height="4.20" rx="0" stroke="#1e1e1e" stroke-width="0.5" fill="#444"/>
<rect x="709.80" y="152.90" width="4.50" height="11.90" rx="0" stroke="#1e1e1e" stroke-width="1.2" fill="#fff"/>
<line x1="717.30" y1="152.90" x2="717.30" y2="158.00" stroke="#1e1e1e" stroke-width="1.2"/>
<circle cx="680.00" cy="197.30" r="31.00" stroke="#1e1e1e" stroke-width="1.2" fill="none"/>
<circle cx="680.00" cy="197.30" r="20.80" stroke="#1e1e1e" stroke-width="1.2" fill="none"/>
<circle cx="680.00" cy="197.30" r="13.50" stroke="#1e1e1e" stroke-width="1.3" fill="none"/>
<circle cx="703.47" cy="187.58" r="2.60" stroke="#1e1e1e" stroke-width="1" fill="none"/>
<circle cx="689.72" cy="173.83" r="2.60" stroke="#1e1e1e" stroke-width="1" fill="none"/>
<circle cx="670.28" cy="173.83" r="2.60" stroke="#1e1e1e" stroke-width="1" fill="none"/>
<circle cx="656.53" cy="187.58" r="2.60" stroke="#1e1e1e" stroke-width="1" fill="none"/>
<circle cx="656.53" cy="207.02" r="2.60" stroke="#1e1e1e" stroke-width="1" fill="none"/>
<circle cx="670.28" cy="220.77" r="2.60" stroke="#1e1e1e" stroke-width="1" fill="none"/>
<circle cx="689.72" cy="220.77" r="2.60" stroke="#1e1e1e" stroke-width="1" fill="none"/>
<circle cx="703.47" cy="207.02" r="2.60" stroke="#1e1e1e" stroke-width="1" fill="none"/>
<path d="M664.5,224.2 Q668.5,228 666.5,233.5" stroke="#1e1e1e" stroke-width="1.2" fill="none" />
<path d="M695.5,224.2 Q691.5,228 693.5,233.5" stroke="#1e1e1e" stroke-width="1.2" fill="none" />
<circle cx="680.00" cy="270.20" r="39.30" stroke="#1e1e1e" stroke-width="1.3" fill="none"/>
<circle cx="680.00" cy="270.20" r="32.80" stroke="#1e1e1e" stroke-width="1.2" fill="none"/>
<circle cx="680.00" cy="270.20" r="30.30" stroke="#1e1e1e" stroke-width="1.3" fill="none"/>
<line x1="616.00" y1="270.20" x2="744.00" y2="270.20" stroke="#1e1e1e" stroke-width="1.2"/>
<path d="M663.4,272.8 L663.4,258.7 L696.2,258.7 L696.2,272.8 M666.8,272.8 L666.8,263.3 L692.7,263.3 L692.7,272.8" stroke="#1e1e1e" stroke-width="1.2" fill="none" />
<path d="M663.4,266.3 L659.5,266.3 Q655.9,266.5 655.9,270 Q655.9,273.8 659.5,273.8 L666.8,273.8" stroke="#1e1e1e" stroke-width="1.1" fill="none" />
<path d="M696.2,266.3 L700.5,266.3 Q704.1,266.5 704.1,270 Q704.1,273.8 700.5,273.8 L692.7,273.8" stroke="#1e1e1e" stroke-width="1.1" fill="none" />
<circle cx="659.60" cy="270.00" r="1.70" stroke="#1e1e1e" stroke-width="1" fill="#333"/>
<circle cx="699.60" cy="270.00" r="1.70" stroke="#1e1e1e" stroke-width="1" fill="#333"/>
<circle cx="679.80" cy="293.10" r="6.20" stroke="#1e1e1e" stroke-width="1.2" fill="none"/>
<text transform="translate(686.20 252.46) rotate(-90) scale(0.328 1)" font-size="19.00" fill="#111" stroke="#111" stroke-width="0.3">A</text>
<path d="M636.5,268 L625,251.5 Q624,249 626.3,248.3 Q628.5,247.5 630,250 L641.5,266.5" stroke="#1e1e1e" stroke-width="1.3" fill="#fff" />
<circle cx="639.60" cy="270.00" r="2.50" stroke="#1e1e1e" stroke-width="1.2" fill="#222"/>
<circle cx="639.60" cy="270.00" r="4.20" stroke="#1e1e1e" stroke-width="0.9" fill="none"/>
<path d="M634.5,264 L634.5,277 L642,283 L647.5,283.3" stroke="#1e1e1e" stroke-width="1.2" fill="none" />
<rect x="638.40" y="275.10" width="2.30" height="2.30" rx="0" stroke="#1e1e1e" stroke-width="0.8" fill="none"/>
<path d="M717.6,266 L717.6,248 Q717.6,245.5 719.7,245.5 Q721.8,245.5 721.8,248 L721.8,266" stroke="#1e1e1e" stroke-width="1.3" fill="#fff" />
<circle cx="719.60" cy="270.00" r="2.50" stroke="#1e1e1e" stroke-width="1.2" fill="#222"/>
<circle cx="719.60" cy="270.00" r="4.20" stroke="#1e1e1e" stroke-width="0.9" fill="none"/>
<path d="M725.5,264 L725.5,277 L718,283 L712.5,283.3" stroke="#1e1e1e" stroke-width="1.2" fill="none" />
<path d="M623.00,273.00 A57.00,57.00 0 0 0 642.98,316.34" stroke="#1e1e1e" stroke-width="1.2" fill="none" />
<path d="M737.00,273.00 A57.00,57.00 0 0 1 717.02,316.34" stroke="#1e1e1e" stroke-width="1.2" fill="none" />
<path d="M628.50,270.20 A51.50,51.50 0 0 0 647.59,310.22" stroke="#1e1e1e" stroke-width="1.2" fill="none" />
<path d="M731.50,270.20 A51.50,51.50 0 0 1 712.41,310.22" stroke="#1e1e1e" stroke-width="1.2" fill="none" />
<path d="M654.50,314.37 A51.00,51.00 0 0 0 670.27,320.26" stroke="#1e1e1e" stroke-width="1.2" fill="none" />
<path d="M689.73,320.26 A51.00,51.00 0 0 0 705.50,314.37" stroke="#1e1e1e" stroke-width="1.2" fill="none" />
<path d="M640.35,290.40 A44.50,44.50 0 0 0 670.75,313.73" stroke="#1e1e1e" stroke-width="1.2" fill="none" />
<path d="M689.25,313.73 A44.50,44.50 0 0 0 719.65,290.40" stroke="#1e1e1e" stroke-width="1.2" fill="none" />
<path d="M636.95,290.27 A47.50,47.50 0 0 0 650.76,307.63" stroke="#1e1e1e" stroke-width="1.6" fill="none" />
<path d="M709.24,307.63 A47.50,47.50 0 0 0 723.05,290.27" stroke="#1e1e1e" stroke-width="1.6" fill="none" />
<path d="M654.10,302.00 L638.40,322.30 L622.80,322.30" stroke="#1e1e1e" stroke-width="1.2" fill="none" />
<path d="M656.00,304.50 L641.50,329.20" stroke="#1e1e1e" stroke-width="1.2" fill="none" />
<path d="M705.90,302.00 L721.60,322.30 L736.40,322.30" stroke="#1e1e1e" stroke-width="1.2" fill="none" />
<path d="M704.00,304.50 L718.50,329.20" stroke="#1e1e1e" stroke-width="1.2" fill="none" />
<path d="M670.7,309.5 L670.7,318 Q671,324.6 680,324.6 Q689,324.6 689.3,318 L689.3,309.5" stroke="#1e1e1e" stroke-width="1.2" fill="#fff" />
<circle cx="679.90" cy="317.00" r="5.60" stroke="#1e1e1e" stroke-width="1.3" fill="#fff"/>
<rect x="677.30" y="314.40" width="5.20" height="5.20" rx="0" stroke="#1e1e1e" stroke-width="1" fill="none"/>
<path d="M665.7,320.8 L665.7,325 Q666,329.2 671,329.2 L689,329.2 Q693.6,329.2 694,325 L694,320.8" stroke="#1e1e1e" stroke-width="1.2" fill="none" />
<line x1="665.70" y1="320.80" x2="671.30" y2="320.80" stroke="#1e1e1e" stroke-width="1.2"/>
<line x1="688.70" y1="320.80" x2="694.00" y2="320.80" stroke="#1e1e1e" stroke-width="1.2"/>
</svg>
</body></html>
